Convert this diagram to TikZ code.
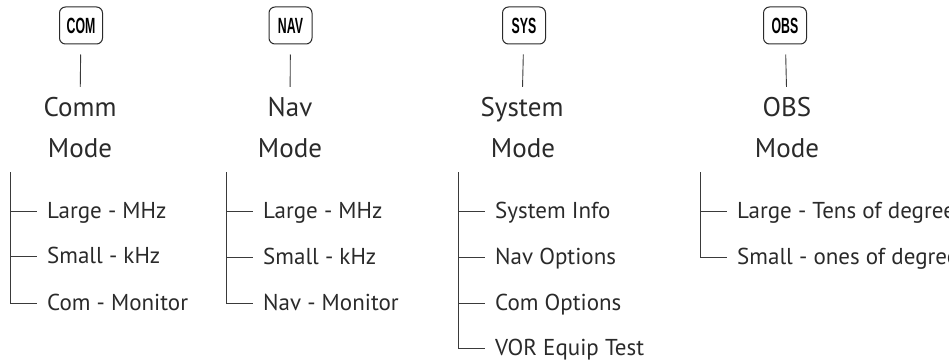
\documentclass[tikz,border=0pt]{standalone}
\usepackage{fontspec}
\setmainfont{PT Sans}
\newfontfamily\keyfont{Liberation Sans}
\definecolor{ink}{HTML}{2A2A2A}
\definecolor{wire}{HTML}{3A3A3A}
\tikzset{
  keybox/.style={draw=ink, line width=1pt, rounded corners=6pt, minimum width=43pt, minimum height=37pt, inner sep=0pt,
    font=\keyfont\bfseries\fontsize{22}{22}\selectfont, text=black},
  title/.style={anchor=base, inner sep=0pt, text height=19pt, text depth=5pt, font=\fontsize{27}{27}\selectfont, text=ink},
  item/.style={anchor=base west, inner sep=0pt, text height=18pt, text depth=4pt, font=\fontsize{23}{23}\selectfont, text=ink},
  wireline/.style={draw=wire, line width=0.9pt},
  stem/.style={wireline, shorten <=10pt, shorten >=10pt},
}
\newcommand{\keylabel}[1]{\scalebox{0.56}[1]{#1}}
\begin{document}
\begin{tikzpicture}[x=1pt,y=-1pt]
\useasboundingbox (0,0) rectangle (949,361);
\clip (0,0) rectangle (949,361);
% COM
\node[keybox] (com) at (81,25.5) {\keylabel{COM}};
\node[title] (comt) at (80,116) {Comm};
\node[title] (comm) at (80,157) {Mode};
\draw[stem] (com) -- (comt);
\coordinate (comtop) at (10,172);
\node[item] (c1) at (47,218) {Large - MHz};
\node[item] (c2) at (47,263) {Small - kHz};
\node[item] (c3) at (47,310) {Com - Monitor};
\draw[wireline] (comtop) |- ([xshift=-10pt]c3.west);
\draw[wireline] (c1.west -| comtop) -- ([xshift=-10pt]c1.west);
\draw[wireline] (c2.west -| comtop) -- ([xshift=-10pt]c2.west);
% NAV
\node[keybox] (nav) at (290.5,25.5) {\keylabel{NAV}};
\node[title] (navt) at (290,116) {Nav};
\node[title] (navm) at (290,157) {Mode};
\draw[stem] (nav) -- (navt);
\coordinate (navtop) at (226,172);
\node[item] (n1) at (263,218) {Large - MHz};
\node[item] (n2) at (263,264) {Small - kHz};
\node[item] (n3) at (263,310) {Nav - Monitor};
\draw[wireline] (navtop) |- ([xshift=-10pt]n3.west);
\draw[wireline] (n1.west -| navtop) -- ([xshift=-10pt]n1.west);
\draw[wireline] (n2.west -| navtop) -- ([xshift=-10pt]n2.west);
% SYS
\node[keybox] (sys) at (524,25.5) {\keylabel{SYS}};
\node[title] (syst) at (522,116) {System};
\node[title] (sysm) at (523,157) {Mode};
\draw[stem] (sys) -- (syst);
\coordinate (systop) at (458,172);
\node[item] (s1) at (495,218) {System Info};
\node[item] (s2) at (495,264) {Nav Options};
\node[item] (s3) at (495,310) {Com Options};
\node[item] (s4) at (495,355) {VOR Equip Test};
\draw[wireline] (systop) |- ([xshift=-10pt]s4.west);
\draw[wireline] (s1.west -| systop) -- ([xshift=-10pt]s1.west);
\draw[wireline] (s2.west -| systop) -- ([xshift=-10pt]s2.west);
\draw[wireline] (s3.west -| systop) -- ([xshift=-10pt]s3.west);
% OBS
\node[keybox] (obs) at (785,25.5) {\keylabel{OBS}};
\node[title] (obst) at (787,116) {OBS};
\node[title] (obsm) at (787,157) {Mode};
\draw[stem] (obs) -- (obst);
\coordinate (obstop) at (700,172);
\node[item] (o1) at (737,218) {Large - Tens of degrees};
\node[item] (o2) at (737,264) {Small - ones of degrees};
\draw[wireline] (obstop) |- ([xshift=-10pt]o2.west);
\draw[wireline] (o1.west -| obstop) -- ([xshift=-10pt]o1.west);
\end{tikzpicture}
\end{document}
